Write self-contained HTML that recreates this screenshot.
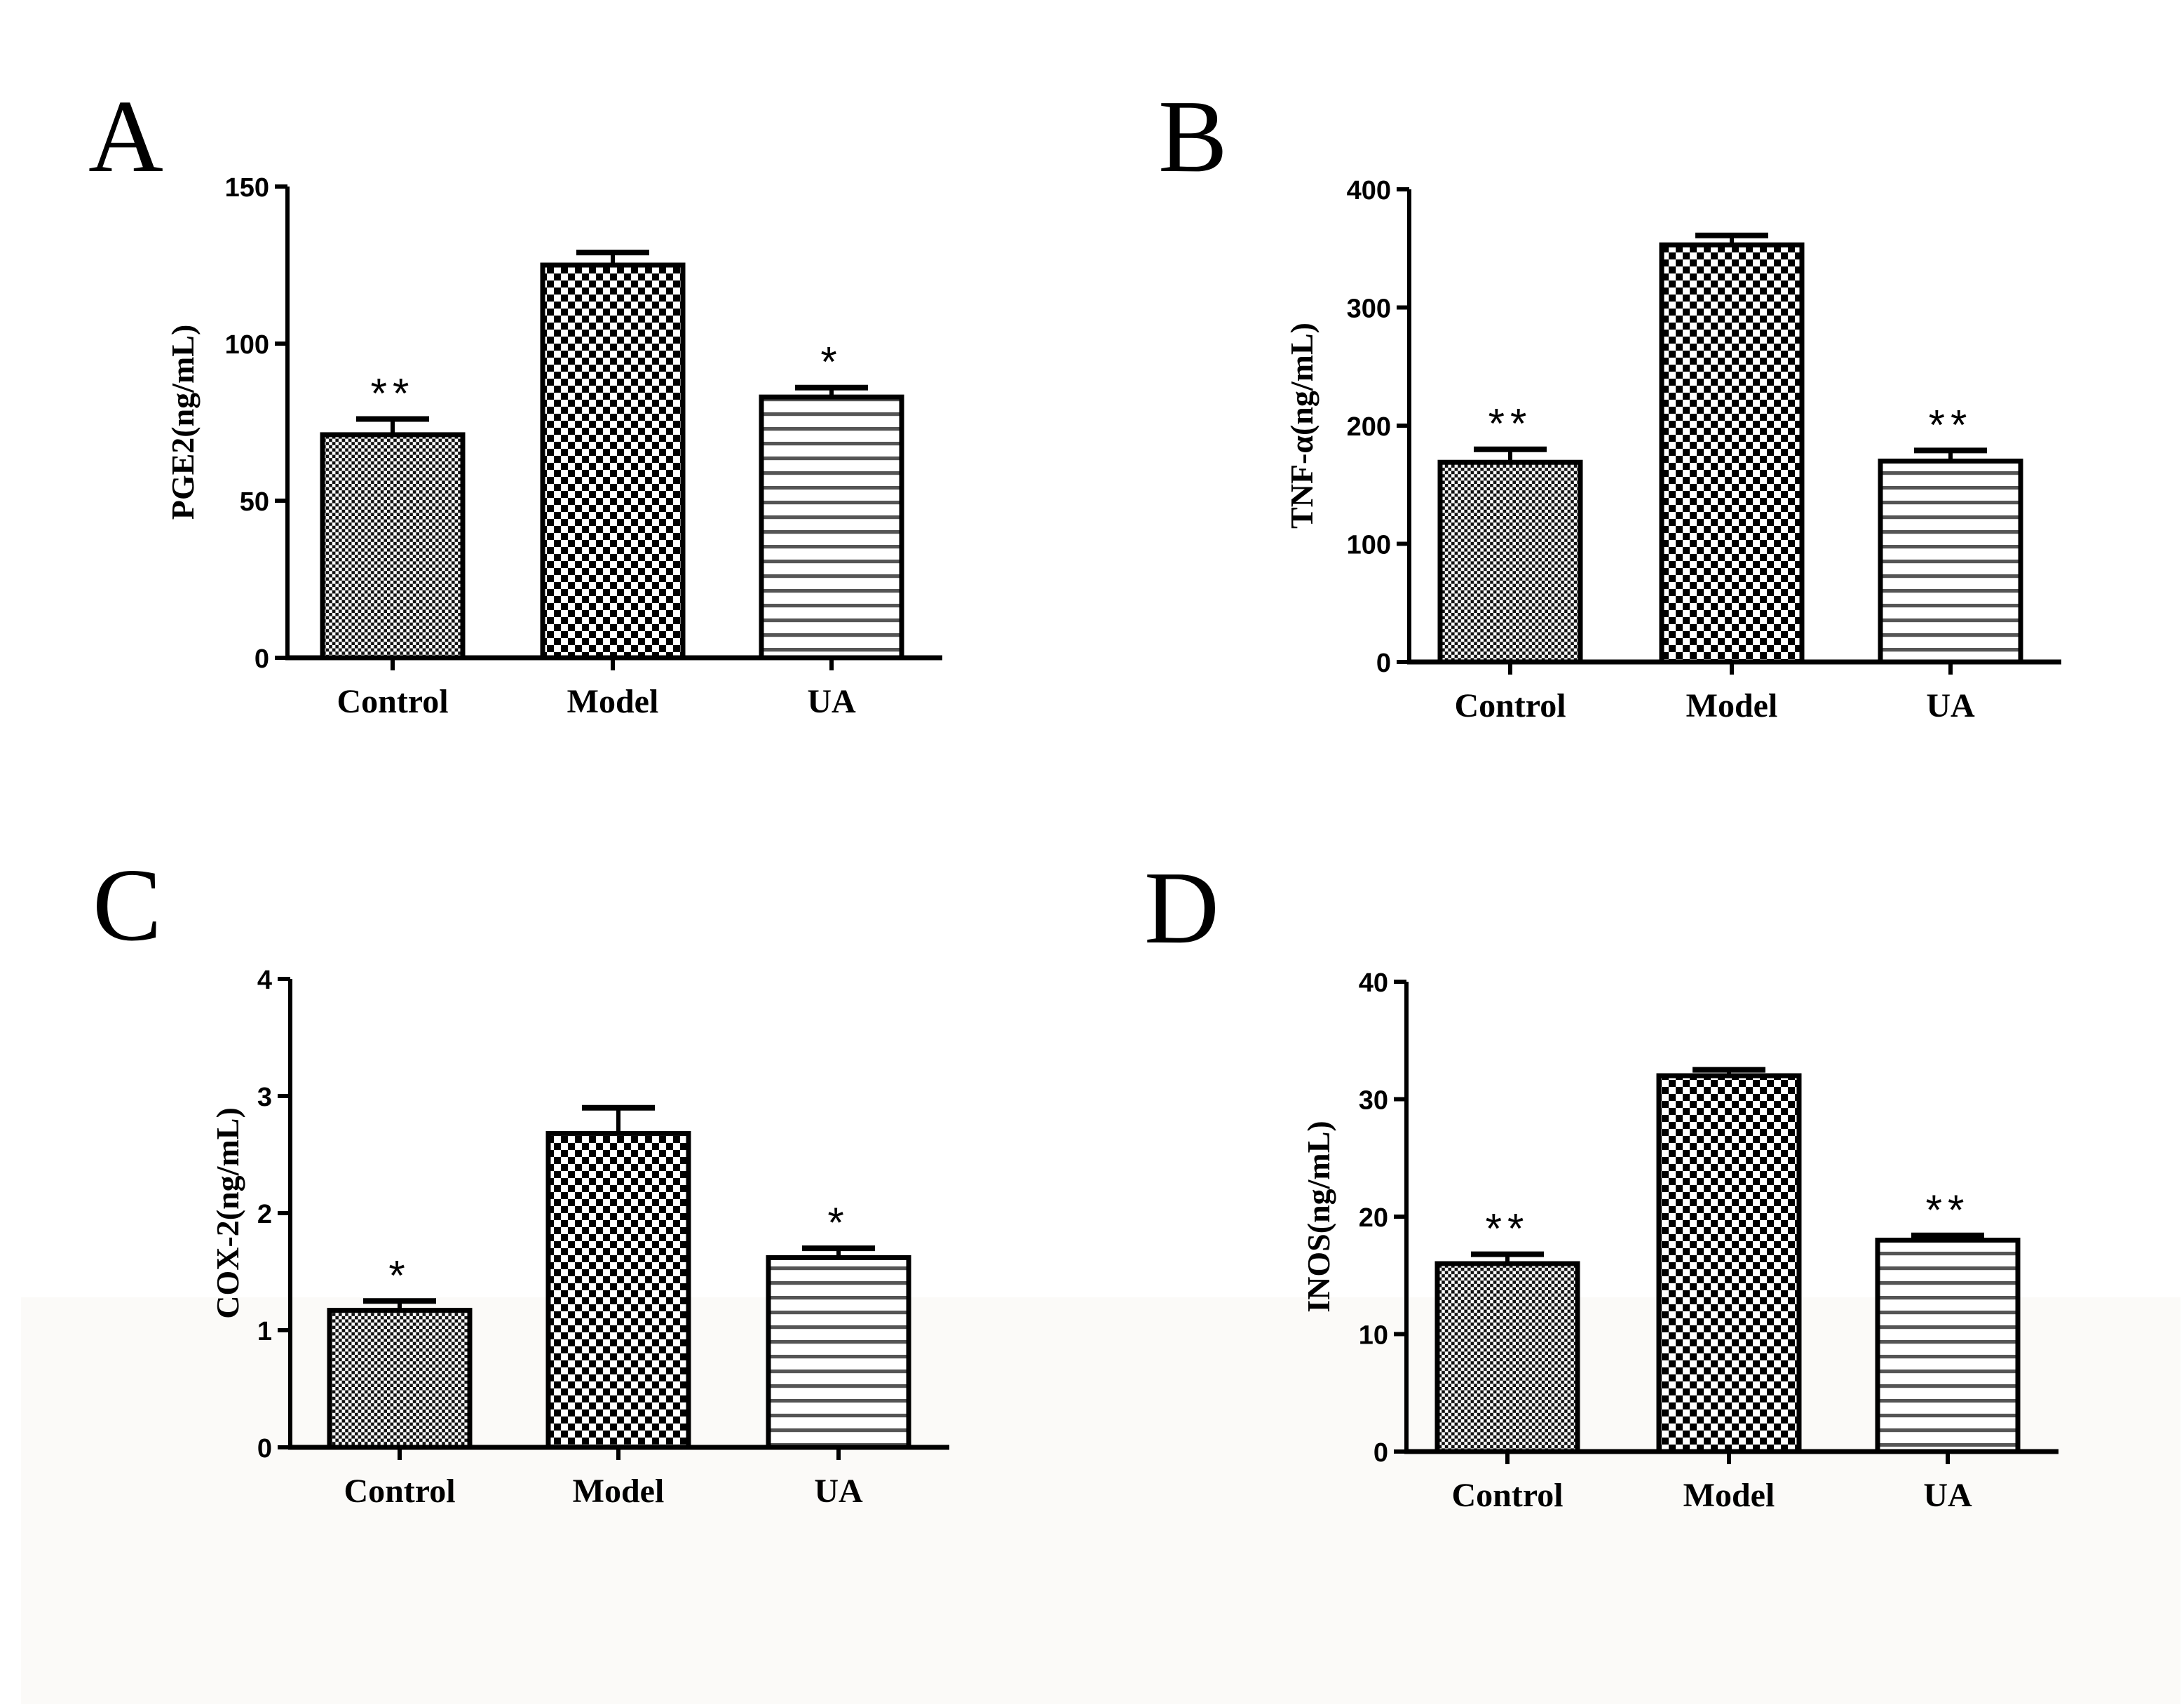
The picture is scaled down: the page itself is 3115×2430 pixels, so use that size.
<!DOCTYPE html>
<html><head><meta charset="utf-8"><style>
html,body{margin:0;padding:0;background:#fff;}
svg{display:block;}
</style></head><body>
<svg id="chart" width="3115" height="2430" viewBox="0 0 1557.5 1215" xmlns="http://www.w3.org/2000/svg">
<defs>
<pattern id="pCtrl" width="4.6" height="4.6" patternUnits="userSpaceOnUse"><rect width="4.6" height="4.6" fill="#fff"/><rect width="2.3" height="2.3" fill="#111"/><rect x="2.3" y="2.3" width="2.3" height="2.3" fill="#111"/></pattern>
<pattern id="pModel" width="10" height="10" patternUnits="userSpaceOnUse"><rect width="10" height="10" fill="#fff"/><rect width="5" height="5" fill="#000"/><rect x="5" y="5" width="5" height="5" fill="#000"/></pattern>
<pattern id="pUA" width="10" height="10.5" patternUnits="userSpaceOnUse"><rect width="10" height="10.5" fill="#fff"/><rect y="0" width="10" height="2.6" fill="#555"/></pattern>
</defs>
<rect x="0" y="0" width="1557.5" height="1215" fill="#fff"/>
<rect x="15" y="925" width="1540" height="290" fill="#fbfaf8"/>
<g id="root"></g>
</svg>
<script>
const categories = ["Control", "Model", "UA"];
const valuesA = [71, 125, 83];
const errorsA = [76, 129, 86];
const starsA = ["**", "", "*"];
const ticksA = [0, 50, 100, 150];
const valuesB = [169, 353, 170];
const errorsB = [180, 361, 179];
const starsB = ["**", "", "**"];
const ticksB = [0, 100, 200, 300, 400];
const valuesC = [1.17, 2.68, 1.62];
const errorsC = [1.25, 2.9, 1.7];
const starsC = ["*", "", "*"];
const ticksC = [0, 1, 2, 3, 4];
const valuesD = [16, 32, 18];
const errorsD = [16.8, 32.5, 18.4];
const starsD = ["**", "", "**"];
const ticksD = [0, 10, 20, 30, 40];

const NS = "http://www.w3.org/2000/svg";
const root = document.getElementById("root");
function mk(tag, attrs, parent, text) {
  const e = document.createElementNS(NS, tag);
  for (const k in attrs) e.setAttribute(k, attrs[k]);
  if (text !== undefined) e.textContent = text;
  (parent || root).appendChild(e);
  return e;
}
const fills = ["url(#pCtrl)", "url(#pModel)", "url(#pUA)"];

function panel(cfg) {
  const g = mk("g", {});
  
  
  const yMax = cfg.ticks[cfg.ticks.length - 1];
  const y = v => cfg.y0 - (v / yMax) * (cfg.y0 - cfg.yTop);
  const letter = mk("text", {x: cfg.lx, y: cfg.ly, "font-family": "Liberation Serif, serif", "font-size": 74, fill: "#000"}, g, cfg.letter);
  
  
  const yl = mk("text", {x: 0, y: 0, transform: `translate(${cfg.ylx},${(cfg.y0 + cfg.yTop) / 2}) rotate(-90)`, "text-anchor": "middle", "font-family": "Liberation Serif, serif", "font-weight": "bold", "font-size": 23}, g, cfg.ylabel);
  
  
  // bars
  categories.forEach((c, i) => {
    const bx = cfg.bx[i], bw = 100;
    const top = y(cfg.values[i]);
    const et = y(cfg.errors[i]);
    const cx = bx + bw / 2;
    const eb = mk("line", {x1: cx, x2: cx, y1: et, y2: top, stroke: "#000", "stroke-width": 3}, g);
    
    
    const cap = mk("line", {x1: cx - 26, x2: cx + 26, y1: et, y2: et, stroke: "#000", "stroke-width": 4}, g);
    
    
    const r = mk("rect", {x: bx, y: top, width: bw, height: cfg.y0 - top, fill: fills[i], stroke: "#000", "stroke-width": 3.5}, g);
    
    
    if (cfg.stars[i]) {
      const s = mk("text", {x: cx, y: et - 8, "text-anchor": "middle", "font-family": "Liberation Sans, sans-serif", "font-size": 30, "letter-spacing": 4}, g, cfg.stars[i]);
      
      
    }
    const t = mk("line", {x1: cx, x2: cx, y1: cfg.y0, y2: cfg.y0 + 9, stroke: "#000", "stroke-width": 3}, g);
    
    
    const lbl = mk("text", {x: cx, y: cfg.y0 + 39, "text-anchor": "middle", "font-family": "Liberation Serif, serif", "font-weight": "bold", "font-size": 24}, g, c);
    
    
  });
  // axes
  const ya = mk("line", {x1: cfg.ax, x2: cfg.ax, y1: cfg.yTop, y2: cfg.y0 + 1.5, stroke: "#000", "stroke-width": 3}, g);
  
  
  const xa = mk("line", {x1: cfg.ax - 1.5, x2: cfg.axEnd, y1: cfg.y0, y2: cfg.y0, stroke: "#000", "stroke-width": 3.5}, g);
  
  
  cfg.ticks.forEach(v => {
    const ty = y(v);
    const t = mk("line", {x1: cfg.ax - 9, x2: cfg.ax, y1: ty, y2: ty, stroke: "#000", "stroke-width": 3}, g);
    
    
    const tl = mk("text", {x: cfg.ax - 13, y: ty + 7, "text-anchor": "end", "font-family": "Liberation Sans, sans-serif", "font-weight": "bold", "font-size": 19}, g, String(v));
    
    
  });
}

panel({letter: "A", lx: 63, ly: 122, ylabel: "PGE2(ng/mL)", ylx: 138, ax: 205, axEnd: 672, y0: 469, yTop: 133, bx: [230, 387, 543], values: valuesA, errors: errorsA, stars: starsA, ticks: ticksA});
panel({letter: "B", lx: 826, ly: 122, ylabel: "TNF-α(ng/mL)", ylx: 936, ax: 1005, axEnd: 1470, y0: 472, yTop: 135, bx: [1027, 1185, 1341], values: valuesB, errors: errorsB, stars: starsB, ticks: ticksB});
panel({letter: "C", lx: 66, ly: 670, ylabel: "COX-2(ng/mL)", ylx: 170, ax: 207, axEnd: 677, y0: 1032, yTop: 698, bx: [235, 391, 548], values: valuesC, errors: errorsC, stars: starsC, ticks: ticksC});
panel({letter: "D", lx: 816, ly: 672, ylabel: "INOS(ng/mL)", ylx: 948, ax: 1003, axEnd: 1468, y0: 1035, yTop: 700, bx: [1025, 1183, 1339], values: valuesD, errors: errorsD, stars: starsD, ticks: ticksD});
</script>
</body></html>
